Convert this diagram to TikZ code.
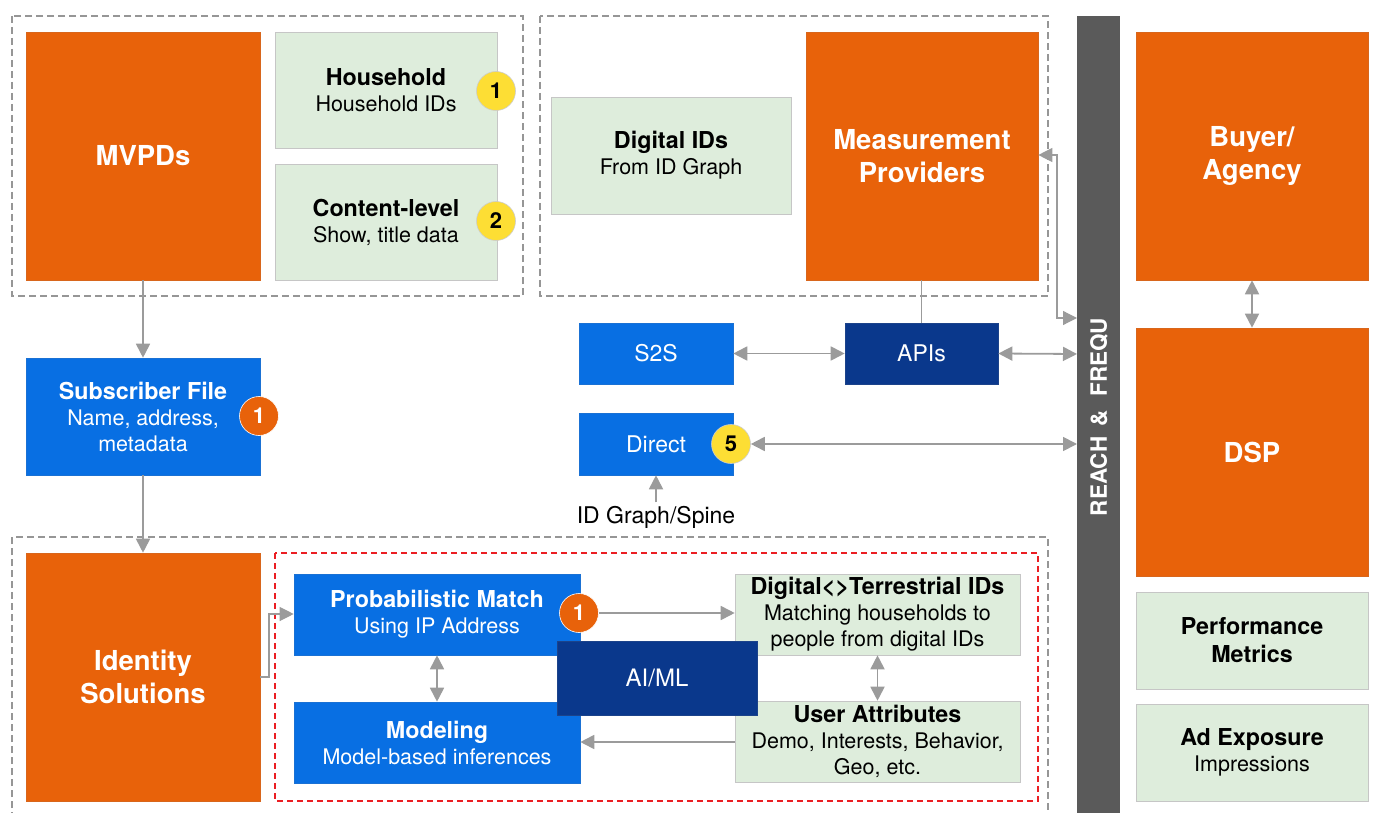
\documentclass[tikz,border=0pt]{standalone}
\usepackage{fontspec}
\setmainfont{TeX Gyre Heros}
\usetikzlibrary{arrows.meta}
\definecolor{cOrange}{RGB}{232,98,10}
\definecolor{cGreen}{RGB}{222,237,220}
\definecolor{cBlue}{RGB}{8,111,227}
\definecolor{cNavy}{RGB}{10,56,140}
\definecolor{cBar}{RGB}{90,90,90}
\definecolor{cYellow}{RGB}{253,222,52}
\definecolor{cArrow}{RGB}{155,155,155}
\definecolor{cDash}{RGB}{150,150,150}
\definecolor{cRed}{RGB}{235,30,35}
\newcommand{\fsTitle}{\fontsize{27.5}{33}\selectfont\bfseries}
\newcommand{\fsHead}{\fontsize{23.3}{26}\selectfont\bfseries}
\newcommand{\fsBody}{\fontsize{21.5}{26}\selectfont}
\newcommand{\fsTag}{\fontsize{23}{26}\selectfont}
\tikzset{
  box/.style={rectangle, inner sep=0pt, align=center, draw=#1!85!gray, line width=0.6pt},
  orangebox/.style={box=cOrange, fill=cOrange, text=white, font=\fsTitle},
  greenbox/.style={box=cGreen, draw=gray!45, fill=cGreen, text=black, font=\fsBody},
  bluebox/.style={box=cBlue, fill=cBlue, text=white, font=\fsBody},
  navybox/.style={box=cNavy, fill=cNavy, text=white, font=\fsTag},
  badge/.style={circle, minimum size=39pt, inner sep=0pt, font=\fontsize{22}{22}\selectfont\bfseries},
  ybadge/.style={badge, fill=cYellow, draw=gray!40, line width=0.6pt, text=black},
  obadge/.style={badge, fill=cOrange, draw=white, line width=0.6pt, text=white},
  conn/.style={draw=cArrow, line width=1.8pt, -{Triangle[length=14pt,width=14pt]}},
  biconn/.style={draw=cArrow, line width=1.8pt, {Triangle[length=14pt,width=14pt]}-{Triangle[length=14pt,width=14pt]}},
  plain/.style={draw=cArrow, line width=1.2pt},
  thinconn/.style={draw=cArrow, line width=1.2pt},
  group/.style={draw=cDash, line width=1.6pt, dash pattern=on 7pt off 4pt},
  redgroup/.style={draw=cRed, line width=1.4pt, dash pattern=on 6pt off 4pt},
}
\begin{document}
\begin{tikzpicture}[x=1pt, y=-1pt]
\useasboundingbox (0,0) rectangle (1374,813);

% grouping frames
\draw[group] (12,16) rectangle (523,296);
\draw[group] (540,16) rectangle (1048,296);
\draw[group] (12,830) -- (12,537) -- (1048,537) -- (1048,830);
\draw[redgroup] (275,553) rectangle (1038,801);

% reach & frequency bar
\node[fill=cBar, minimum width=43pt, minimum height=797pt, inner sep=0pt] (bar) at (1098.5,414.5) {};
\node[rotate=90, text=white, font=\fontsize{22.5}{22.5}\selectfont\bfseries] (bartext) at (1099,417) {REACH \,\&\,\, FREQU};

% MVPD group
\node[orangebox, minimum width=234pt, minimum height=248pt] (mvpd) at (143,156) {MVPDs};
\node[greenbox, minimum width=222pt, minimum height=116pt] (hh) at (386,90) {{\fsHead Household}\\Household IDs};
\node[greenbox, minimum width=222pt, minimum height=116pt] (cl) at (386,222) {{\fsHead Content-level}\\Show, title data};
\node[ybadge] (b1) at (496,91) {1};
\node[ybadge] (b2) at (496,221) {2};

% measurement group
\node[greenbox, minimum width=240pt, minimum height=117pt] (dig) at (671,155.5) {{\fsHead Digital IDs}\\From ID Graph};
\node[orangebox, minimum width=232pt, minimum height=248pt] (meas) at (922,156) {Measurement\\Providers};

% buyer side
\node[orangebox, minimum width=232pt, minimum height=248pt] (buyer) at (1252,156) {Buyer/\\Agency};
\node[orangebox, minimum width=232pt, minimum height=248pt] (dsp) at (1252,452) {DSP};
\node[greenbox, minimum width=232pt, minimum height=97pt] (perf) at (1252,640.5) {{\fsHead Performance}\\[2pt]{\fsHead Metrics}};
\node[greenbox, minimum width=232pt, minimum height=97pt] (adexp) at (1252,752.5) {{\fsHead Ad Exposure}\\Impressions};

% integration paths
\node[bluebox, font=\fsTag, minimum width=154pt, minimum height=61pt] (s2s) at (656,353.5) {S2S};
\node[navybox, minimum width=153pt, minimum height=61pt] (apis) at (921.5,353.5) {APIs};
\node[bluebox, font=\fsTag, minimum width=154pt, minimum height=62pt] (direct) at (656,444) {Direct};
\node[ybadge] (b5) at (731,444) {5};
\node[font=\fontsize{23}{23}\selectfont] (spine) at (656,517) {ID Graph/Spine};

% subscriber file
\node[bluebox, minimum width=234pt, minimum height=117pt] (sub) at (143,416.5) {{\fsHead Subscriber File}\\Name, address,\\metadata};
\node[obadge] (b1s) at (259,416) {1};

% identity group
\node[orangebox, minimum width=234pt, minimum height=248pt] (ident) at (143,677) {Identity\\Solutions};
\node[bluebox, minimum width=286pt, minimum height=81pt] (prob) at (437,614.5) {{\fsHead Probabilistic Match}\\Using IP Address};
\node[bluebox, minimum width=286pt, minimum height=81pt] (model) at (437,742.5) {{\fsHead Modeling}\\Model-based inferences};
\node[greenbox, minimum width=285pt, minimum height=81pt] (dt) at (877.5,614.5) {{\fsHead Digital<>Terrestrial IDs}\\Matching households to\\people from digital IDs};
\node[greenbox, minimum width=285pt, minimum height=81pt] (ua) at (877.5,741.5) {{\fsHead User Attributes}\\Demo, Interests, Behavior,\\Geo, etc.};
\node[navybox, font=\fontsize{24}{26}\selectfont, minimum width=200pt, minimum height=74pt] (aiml) at (657,678) {AI/ML};
\node[obadge] (b1p) at (579,613) {1};

% connection points
\coordinate (measBend) at (1057,155);
\coordinate (measBend2) at (1057,318);
\coordinate (barM) at (1077,318);
\coordinate (barA) at (1077,354);
\coordinate (barD) at (1077,444);
\coordinate (identE) at (260,677);
\coordinate (identBend) at (269,677);
\coordinate (identBend2) at (269,614);

% connectors
\draw[conn] (mvpd.south) -- (sub.north);
\draw[conn] (sub.south) -- (ident.north);
\draw[plain] (meas.south -| apis.north) -- (apis.north);
\draw[thinconn, {Triangle[length=14pt,width=14pt]}-{Triangle[length=14pt,width=14pt]}]
  (meas.east |- measBend) -- (measBend) -- (measBend2) -- (barM);
\draw[biconn] (s2s.east) -- (apis.west);
\draw[biconn] (apis.east) -- (barA);
\draw[biconn] (b5.east) -- (barD);
\draw[conn] (spine.north) -- (direct.south);
\draw[biconn] (buyer.south) -- (dsp.north);
\draw[thinconn, -{Triangle[length=14pt,width=14pt]}] (identE) -- (identBend) -- (identBend2) -- (prob.west |- identBend2);
\draw[conn] (b1p.east) -- (dt.west |- b1p.east);
\draw[biconn] (prob.south) -- (model.north);
\draw[biconn] (dt.south) -- (ua.north);
\draw[conn] (ua.west |- 0,742) -- (model.east |- 0,742);
\end{tikzpicture}
\end{document}
